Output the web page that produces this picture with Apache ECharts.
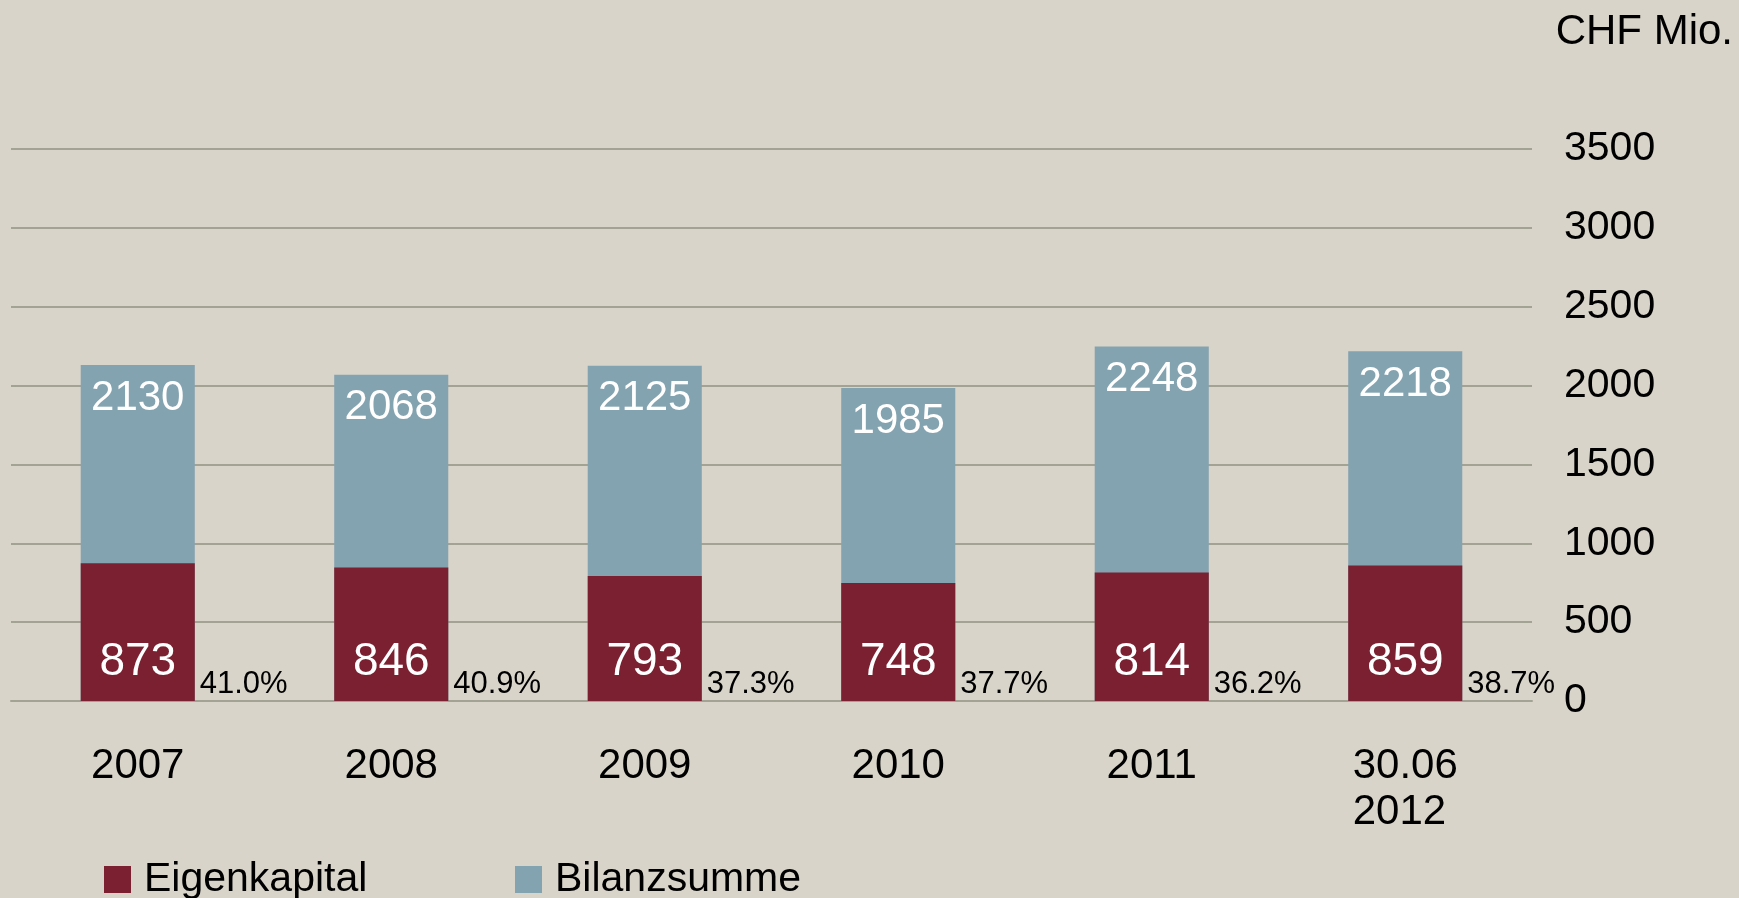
<!DOCTYPE html>
<html>
<head>
<meta charset="utf-8">
<script src="https://cdn.jsdelivr.net/npm/echarts@6/dist/echarts.min.js"></script>
<style>
  html, body { margin: 0; padding: 0; background: #D8D4C9; }
  #chart { width: 1739px; height: 898px; }
</style>
</head>
<body>
<div id="chart"></div>
<script>
const categories = ['2007', '2008', '2009', '2010', '2011', '30.06\n2012 ']
const eigenkapital = [873, 846, 793, 748, 814, 859]
const bilanzsumme = [2130, 2068, 2125, 1985, 2248, 2218]
const quoteLabels = ['41.0%', '40.9%', '37.3%', '37.7%', '36.2%', '38.7%']

const FONT = '"Liberation Sans", Arial, sans-serif'
const RED = '#7B2031'
const BLUE = '#84A3B0'
const GRID = '#A3A394'

const chart = echarts.init(document.getElementById('chart'))

function legendFor(name, left) {
  return {
    data: [name],
    left: left,
    top: 859,
    padding: 0,
    icon: 'rect',
    itemWidth: 27,
    itemHeight: 27,
    textStyle: { fontFamily: FONT, fontSize: 41, color: '#000', padding: [0, 0, 0, 8] }
  }
}

const option = {
  backgroundColor: '#D8D4C9',
  animation: false,
  textStyle: { fontFamily: FONT },
  title: {
    text: 'CHF Mio.',
    right: 6,
    top: 11,
    padding: 0,
    textStyle: { fontFamily: FONT, fontSize: 42, fontWeight: 'normal', color: '#000' }
  },
  legend: [legendFor('Eigenkapital', 104), legendFor('Bilanzsumme', 515)],
  grid: {
    left: 11,
    right: 207,
    top: 149,
    bottom: 197
  },
  xAxis: {
    type: 'category',
    data: categories,
    axisLine: { show: true, lineStyle: { color: GRID, width: 2 } },
    axisTick: { show: false },
    axisLabel: {
      margin: 42,
      fontFamily: FONT,
      fontSize: 42,
      lineHeight: 46,
      color: '#000'
    }
  },
  yAxis: {
    type: 'value',
    position: 'right',
    min: 0,
    max: 3500,
    interval: 500,
    axisLine: { show: false },
    axisTick: { show: false },
    splitLine: { lineStyle: { color: GRID, width: 2 } },
    axisLabel: {
      margin: 32,
      align: 'left',
      fontFamily: FONT,
      fontSize: 41,
      color: '#000',
      formatter: function (v) { return String(v) }
    }
  },
  series: [
    {
      name: 'Bilanzsumme',
      type: 'bar',
      data: bilanzsumme,
      barWidth: '45%',
      itemStyle: { color: BLUE },
      label: {
        show: true,
        position: 'insideTop',
        distance: 12,
        fontFamily: FONT,
        fontSize: 42,
        color: '#fff'
      }
    },
    {
      name: 'Eigenkapital',
      type: 'bar',
      data: eigenkapital,
      barWidth: '45%',
      barGap: '-100%',
      itemStyle: { color: RED },
      label: {
        show: true,
        position: 'insideBottom',
        distance: 16,
        fontFamily: FONT,
        fontSize: 46,
        color: '#fff'
      }
    },
    {
      // Quote (EK / Bilanzsumme) rechts neben den Balken
      name: 'Quote',
      type: 'scatter',
      data: quoteLabels.map(function () { return 0 }),
      symbolSize: 0,
      silent: true,
      z: 5,
      itemStyle: { opacity: 1 },
      label: {
        show: true,
        position: 'right',
        distance: 0,
        offset: [62, -17],
        opacity: 1,
        fontFamily: FONT,
        fontSize: 31,
        color: '#000',
        formatter: function (p) { return quoteLabels[p.dataIndex] }
      }
    }
  ]
}

chart.setOption(option)
</script>
</body>
</html>
